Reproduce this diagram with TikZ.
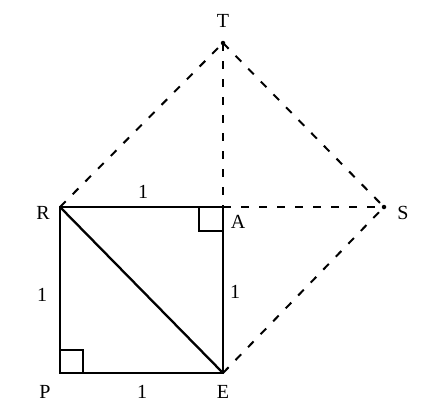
\documentclass[tikz,border=0pt]{standalone}
\usepackage{fontspec}
\setmainfont{Liberation Serif}
\usetikzlibrary{calc}
\begin{document}
\begin{tikzpicture}[x=1pt,y=-1pt,
  solidline/.style={line width=2.3pt},
  dashline/.style={line width=2pt,dash pattern=on 8pt off 10pt},
  lbl/.style={font=\fontsize{20}{22}\selectfont,inner sep=0pt},
  dotmark/.style={circle,fill=black,inner sep=0pt,minimum size=4.5pt}]
\useasboundingbox (0,0) rectangle (426,407);
\coordinate (P) at (60,373);
\coordinate (E) at (223,373);
\coordinate (R) at (60,207);
\coordinate (A) at (223,207);
\node[dotmark] (T) at (223,43) {};
\node[dotmark] (S) at (384,207) {};
% dashed
\draw[dashline] (R) -- (T.center);
\draw[dashline] (T.center) -- (S.center);
\draw[dashline] (T.center) -- (A);
\draw[dashline] (A) -- (S.center);
\draw[dashline] (E) -- (S.center);
% solid square
\draw[solidline,line join=miter] (R) -- (A) -- (E) -- (P) -- cycle;
\draw[solidline] (R) -- (E);
% right angle marks
\draw[solidline] ($(A)+(-24,0)$) -- ++(0,24) -- ++(24,0);
\draw[solidline] ($(P)+(0,-23)$) -- ++(23,0) -- ++(0,23);
% labels
\node[lbl] (lT) at (223,21) {T};
\node[lbl] (lR) at (43,213) {R};
\node[lbl] (lA) at (238,222) {A};
\node[lbl] (lS) at (403,213) {S};
\node[lbl] (lP) at (45,392) {P};
\node[lbl] (lE) at (223,392) {E};
\node[lbl] (l1) at (143,192) {1};
\node[lbl] (l2) at (42,295) {1};
\node[lbl] (l3) at (235,292) {1};
\node[lbl] (l4) at (142,392) {1};
\end{tikzpicture}
\end{document}
